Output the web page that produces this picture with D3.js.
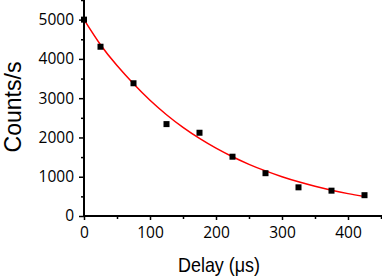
<!DOCTYPE html>
<html><head><meta charset="utf-8">
<script src="https://cdn.jsdelivr.net/npm/d3@7"></script>
<style>
html,body{margin:0;padding:0;background:#fff;}
svg{display:block;}
</style></head>
<body>
<svg id="chart" width="382" height="280"></svg>
<script>
// Data
const delays = [0, 25, 75, 125, 175, 225, 275, 325, 375, 425];
const counts = [5000, 4310, 3380, 2340, 2120, 1510, 1090, 730, 645, 530];
const fitX = [0, 25, 50, 75, 100, 125, 150, 175, 200, 225, 250, 275, 300, 325, 350, 375, 400, 425];
const fitY = [5000, 4360, 3830, 3366, 2946, 2579, 2256, 1974, 1726, 1508, 1316, 1148, 1001, 871, 758, 658, 570, 493];
const xMajor = [0, 100, 200, 300, 400];
const xMinor = [50, 150, 250, 350, 450];
const yMajor = [0, 1000, 2000, 3000, 4000, 5000];
const yMinor = [500, 1500, 2500, 3500, 4500, 5500];
const xTitle = "Delay (\u03bcs)";
const yTitle = "Counts/s";

const svg = d3.select("#chart");
const x = d3.scaleLinear().domain([0, 450]).range([84, 381]);
const y = d3.scaleLinear().domain([0, 5500]).range([216, 0]);

const tickFont = "'Open Sans', sans-serif";

// minor ticks
svg.append("g").attr("transform", "translate(0,216)")
  .call(d3.axisBottom(x).tickValues(xMinor).tickSize(3).tickFormat(""))
  .call(g => g.select(".domain").remove())
  .call(g => g.selectAll("line").attr("stroke", "#000").attr("stroke-width", 1.5));
svg.append("g").attr("transform", "translate(84,0)")
  .call(d3.axisLeft(y).tickValues(yMinor).tickSize(3).tickFormat(""))
  .call(g => g.select(".domain").remove())
  .call(g => g.selectAll("line").attr("stroke", "#000").attr("stroke-width", 1.5));

// major axes
const xAxis = svg.append("g").attr("transform", "translate(0,216)")
  .call(d3.axisBottom(x).tickValues(xMajor).tickSize(4).tickSizeOuter(0).tickPadding(7).tickFormat(d3.format("d")));
xAxis.select(".domain").attr("stroke", "#000").attr("stroke-width", 2).attr("d", "M84,0H382");
xAxis.selectAll("line").attr("stroke", "#000").attr("stroke-width", 1.5);
xAxis.selectAll("text").attr("font-family", tickFont).attr("font-size", 15.5).attr("fill", "#000");

const yAxis = svg.append("g").attr("transform", "translate(84,0)")
  .call(d3.axisLeft(y).tickValues(yMajor).tickSize(5).tickSizeOuter(0).tickPadding(5).tickFormat(d3.format("d")));
yAxis.select(".domain").attr("stroke", "#000").attr("stroke-width", 2).attr("d", "M0,0V217");
yAxis.selectAll("line").attr("stroke", "#000").attr("stroke-width", 1.5);
yAxis.selectAll("text").attr("font-family", tickFont).attr("font-size", 15.5).attr("fill", "#000");

// fit curve
const line = d3.line().x((d, i) => x(fitX[i])).y(d => y(d)).curve(d3.curveNatural);
svg.append("path").datum(fitY).attr("d", line)
  .attr("fill", "none").attr("stroke", "#ff0000").attr("stroke-width", 1.5);

// data points
svg.append("g").selectAll("rect").data(delays).join("rect")
  .attr("x", (d) => x(d) - 3).attr("y", (d, i) => y(counts[i]) - 3)
  .attr("width", 6).attr("height", 6).attr("fill", "#000");

// titles
svg.append("text").text(xTitle)
  .attr("x", 219).attr("y", 272).attr("text-anchor", "middle")
  .attr("font-family", "'Liberation Sans', Arial, sans-serif").attr("font-size", 21)
  .attr("textLength", 82).attr("lengthAdjust", "spacingAndGlyphs").attr("fill", "#000");
svg.append("text").text(yTitle)
  .attr("transform", "translate(21,107) rotate(-90)").attr("text-anchor", "middle")
  .attr("font-family", "'Liberation Sans', Arial, sans-serif").attr("font-size", 24)
  .attr("textLength", 91).attr("lengthAdjust", "spacingAndGlyphs").attr("fill", "#000");
</script>
</body></html>
